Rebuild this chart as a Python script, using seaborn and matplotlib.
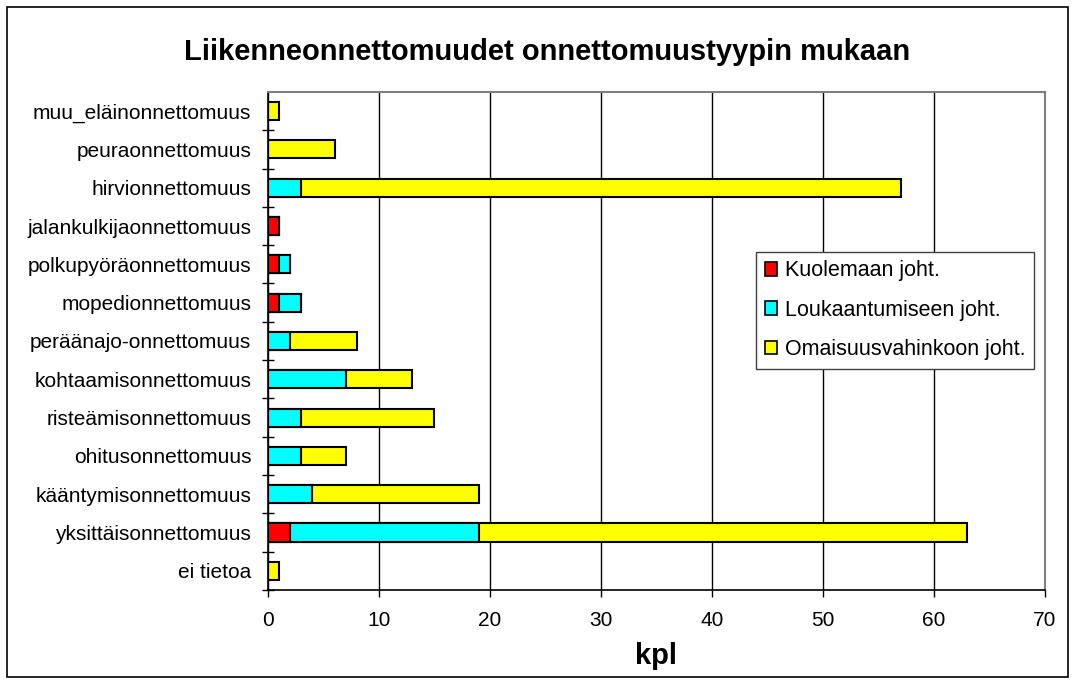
import pandas as pd
import numpy as np
import matplotlib
matplotlib.use("Agg")
import matplotlib.pyplot as plt
import seaborn as sns
from matplotlib.patches import Patch, Rectangle

# Data
categories = [
    "muu_eläinonnettomuus", "peuraonnettomuus", "hirvionnettomuus",
    "jalankulkijaonnettomuus", "polkupyöräonnettomuus", "mopedionnettomuus",
    "peräänajo-onnettomuus", "kohtaamisonnettomuus", "risteämisonnettomuus",
    "ohitusonnettomuus", "kääntymisonnettomuus", "yksittäisonnettomuus",
    "ei tietoa",
]
kuolema = [0, 0, 0, 1, 1, 1, 0, 0, 0, 0, 0, 2, 0]
loukkaantuminen = [0, 0, 3, 0, 1, 2, 2, 7, 3, 3, 4, 17, 0]
omaisuus = [1, 6, 54, 0, 0, 0, 6, 6, 12, 4, 15, 44, 1]
series_names = ["Kuolemaan joht.", "Loukaantumiseen joht.", "Omaisuusvahinkoon joht."]
colors = ["#ff0000", "#00ffff", "#ffff00"]

df = pd.DataFrame({"tyyppi": categories, "k": kuolema,
                   "l": loukkaantuminen, "o": omaisuus})
df["c1"] = df["k"]
df["c2"] = df["k"] + df["l"]
df["c3"] = df["c2"] + df["o"]

sns.set_style("white")
plt.rcParams["font.family"] = ["Liberation Sans", "DejaVu Sans"]
plt.rcParams["text.color"] = "black"
plt.rcParams["xtick.color"] = "black"
plt.rcParams["ytick.color"] = "black"
plt.rcParams["axes.labelcolor"] = "black"

fig = plt.figure(figsize=(10.72, 6.8), dpi=100)
ax = fig.add_axes([0.25, 0.1324, 0.7248, 0.7324])

# stacked bars: draw cumulative totals, widest first
for col, c in zip(["c3", "c2", "c1"], colors[::-1]):
    sns.barplot(data=df, x=col, y="tyyppi", orient="h", color=c,
                width=0.47, edgecolor="black", linewidth=1.5,
                saturation=1, ax=ax)

ax.set_xlim(0, 70)
ax.set_xticks(range(0, 71, 10))
ax.xaxis.grid(True, color="black", linewidth=1)
ax.set_axisbelow(True)
ax.set_ylabel("")
ax.set_xlabel("kpl", fontsize=21, fontweight="bold", labelpad=9)
ax.tick_params(axis="both", labelsize=15)
ax.tick_params(axis="x", direction="out", length=5, width=1, color="black", bottom=True, pad=10)
ax.set_yticks(np.arange(len(categories)) + 0.5, minor=True)
ax.tick_params(axis="y", which="minor", direction="inout", length=8, width=1, left=True)
ax.tick_params(axis="y", which="major", length=0, pad=12)
for s in ["top", "right"]:
    ax.spines[s].set_color("#808080")
    ax.spines[s].set_linewidth(1.5)
for s in ["left", "bottom"]:
    ax.spines[s].set_color("black")
    ax.spines[s].set_linewidth(1.2)

fig.text(0.51, 1 - 52 / 680, "Liikenneonnettomuudet onnettomuustyypin mukaan",
         fontsize=21, fontweight="bold", ha="center", va="center")

handles = [Patch(facecolor=c, edgecolor="black", linewidth=1.2) for c in colors]
leg = ax.legend(handles, series_names, loc="upper left",
                bbox_to_anchor=(0.628, 0.679), fontsize=15.5, frameon=True,
                fancybox=False, edgecolor="#404040", framealpha=1,
                handlelength=0.6, handleheight=0.6, handletextpad=0.35,
                labelspacing=0.85, borderpad=0.4, borderaxespad=0)
leg.get_frame().set_linewidth(1)

fig.patches.append(Rectangle((0.0065, 0.005), 0.9895, 0.9845, transform=fig.transFigure,
                             fill=False, edgecolor="black", linewidth=1.2))

fig.savefig("out.png", dpi=100)
